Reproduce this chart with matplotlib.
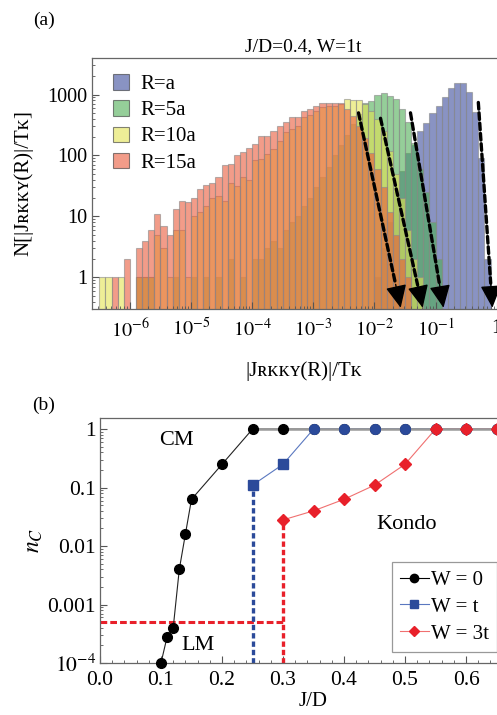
import numpy as np
import matplotlib
matplotlib.use("Agg")
import matplotlib.pyplot as plt
from matplotlib.patches import Patch
from matplotlib.lines import Line2D
from matplotlib.ticker import FuncFormatter, LogLocator, MultipleLocator, FixedLocator, NullFormatter

plt.rcParams['font.family'] = ['Liberation Serif', 'DejaVu Serif']
plt.rcParams['mathtext.fontset'] = 'stix'

# ---- panel (a): histograms of |J_RKKY|/T_K, log10 bins of width 0.1 from -6.5 to 0
log_edges = np.round(np.arange(-6.5, -0.05, 0.1), 1)

counts_r15a = [0, 0, 1, 0, 2, 0,
               3, 4, 6, 11, 7, 5, 13, 18, 17, 20,
               28, 33, 35, 44, 70, 72, 100, 116, 134, 155,
               205, 205, 257, 310, 353, 425, 435, 545, 585, 660,
               720, 730, 730, 720, 585, 450, 300, 190, 110, 60,
               30, 12, 5, 2, 1, 0, 0, 0, 0, 0,
               0, 0, 0, 0, 0, 0, 0, 0, 0]
counts_r10a = [1, 1, 0, 1, 0, 0,
               1, 1, 1, 5, 3, 1, 6, 6, 1, 10,
               12, 15, 20, 22, 18, 36, 32, 44, 39, 83,
               88, 104, 128, 176, 240, 275, 310, 425, 455, 545,
               635, 640, 660, 700, 850, 820, 800, 700, 540, 400,
               250, 120, 50, 20, 6, 2, 1, 0, 0, 0,
               0, 0, 0, 0, 0, 0, 0, 0, 0]
counts_r5a = [0, 0, 0, 0, 0, 0,
              1, 1, 1, 0, 0, 0, 1, 0, 0, 1,
              0, 1, 0, 1, 0, 2, 0, 1, 0, 2,
              2, 3, 4, 3, 6, 8, 10, 15, 20, 30,
              45, 65, 100, 150, 220, 330, 480, 740, 775, 1000,
              1050, 960, 850, 585, 350, 160, 60, 25, 8, 2,
              0, 0, 0, 0, 0, 0, 0, 0, 0]
counts_ra = [0] * 36 + [0, 0, 0, 0, 0, 0, 0, 0, 0, 1,
                        3, 8, 25, 55, 110, 150, 250, 340, 490, 660,
                        920, 1260, 1540, 1540, 1100, 520, 90, 2, 0]

hist_labels = ['R=a', 'R=5a', 'R=10a', 'R=15a']
hist_colors = ['#3a4c9c', '#4fae55', '#e3e352', '#ea5a3a']

# dotted arrows (start, end) in (log10 |J|/T_K, log10 N)
arrow_paths = [((-2.26, 2.70), (-1.57, -0.50)),
               ((-1.90, 2.61), (-1.21, -0.50)),
               ((-1.41, 2.70), (-0.87, -0.50)),
               ((-0.30, 2.87), (-0.07, -0.50))]

# ---- panel (b): n_C vs J/D
jd_w0 = [0.10, 0.11, 0.12, 0.13, 0.14, 0.15, 0.20, 0.25, 0.30, 0.35, 0.40, 0.45, 0.50, 0.55, 0.60, 0.65, 0.70]
nc_w0 = [1e-4, 2.8e-4, 4e-4, 4e-3, 1.6e-2, 6.3e-2, 0.25, 1, 1, 1, 1, 1, 1, 1, 1, 1, 1]
jd_wt = [0.25, 0.30, 0.35, 0.40, 0.45, 0.50, 0.55, 0.60, 0.65, 0.70]
nc_wt = [0.11, 0.25, 1, 1, 1, 1, 1, 1, 1, 1]
jd_w3t = [0.30, 0.35, 0.40, 0.45, 0.50, 0.55, 0.60, 0.65, 0.70]
nc_w3t = [0.028, 0.04, 0.063, 0.11, 0.25, 1, 1, 1, 1]
nc_threshold = 5e-4

fig = plt.figure(figsize=(4.97, 7.15), dpi=100)

# ================= panel (a)
ax1 = fig.add_axes([92/497, 1-309/715, 423/497, 251/715])
lefts = 10.0**log_edges
widths = 10.0**(log_edges + 0.1) - lefts
for cnt, col in zip([counts_ra, counts_r5a, counts_r10a, counts_r15a], hist_colors):
    cnt = np.array(cnt, dtype=float)
    m = cnt > 0
    ax1.bar(lefts[m], cnt[m], width=widths[m], align='edge', color=col, alpha=0.6,
            edgecolor='#8a8a8a', linewidth=0.8)

ax1.set_xscale('log')
ax1.set_yscale('log')
ax1.set_xlim(10**-6.62, 10**0.3)
ax1.set_ylim(10**-0.52, 10**3.6)

# dashed shaft, then a solid head at the end
for (x0, y0), (x1, y1) in arrow_paths:
    xm, ym = x1 - 0.12 * (x1 - x0), y1 - 0.12 * (y1 - y0)
    ax1.annotate('', xy=(10**xm, 10**ym), xytext=(10**x0, 10**y0),
                 arrowprops=dict(arrowstyle='-', color='black', lw=2.4,
                                 linestyle=(0, (2.0, 1.1)), shrinkA=0, shrinkB=0))
    ax1.annotate('', xy=(10**x1, 10**y1), xytext=(10**xm, 10**ym),
                 arrowprops=dict(arrowstyle='-|>,head_length=1.4,head_width=0.65',
                                 color='black', lw=1.0, shrinkA=0, shrinkB=0))

ax1.xaxis.set_major_locator(FixedLocator([1e-6, 1e-5, 1e-4, 1e-3, 1e-2, 1e-1, 1]))
ax1.xaxis.set_major_formatter(FuncFormatter(
    lambda v, p: '1' if abs(v - 1) < 1e-9 else r'$10^{%d}$' % int(round(np.log10(v)))))
ax1.xaxis.set_minor_locator(LogLocator(base=10, subs=np.arange(2, 10), numticks=20))
ax1.xaxis.set_minor_formatter(NullFormatter())
ax1.yaxis.set_major_locator(FixedLocator([1, 10, 100, 1000]))
ax1.yaxis.set_major_formatter(FuncFormatter(lambda v, p: '%d' % v))
ax1.yaxis.set_minor_locator(LogLocator(base=10, subs=np.arange(2, 10), numticks=20))
ax1.yaxis.set_minor_formatter(NullFormatter())
ax1.tick_params(which='both', direction='in', labelsize=14.5, colors='#555555', labelcolor='black')
ax1.tick_params(which='major', length=5, width=0.8)
ax1.tick_params(which='minor', length=2.5, width=0.6)
ax1.tick_params(axis='x', pad=7)
for s in ax1.spines.values():
    s.set_color('#666666')
    s.set_linewidth(0.9)

ax1.set_title('J/D=0.4, W=1t', fontsize=14, pad=5)
ax1.set_xlabel('|Jʀᴋᴋʏ(R)|/Tᴋ', fontsize=15, labelpad=14)
ax1.set_ylabel('N[|Jʀᴋᴋʏ(R)|/Tᴋ]', fontsize=15, labelpad=10)

handles = [Patch(facecolor=c, alpha=0.6, edgecolor='#333333', linewidth=0.8) for c in hist_colors]
ax1.legend(handles, hist_labels, loc='upper left', bbox_to_anchor=(0.02, 0.985), frameon=False,
           fontsize=15, handlelength=0.75, handleheight=0.75, labelspacing=0.3, handletextpad=0.55,
           borderaxespad=0.2)

fig.text(44/497, 1-20/715, '(a)', fontsize=14, ha='center', va='center')

# ================= panel (b)
ax2 = fig.add_axes([100/497, 1-663/715, 427/497, 245/715])
ax2.set_yscale('log')
ax2.set_xlim(0, 0.7)
ax2.set_ylim(1e-4, 10**0.19)

w0 = np.array(nc_w0)
wt = np.array(nc_wt)
w3 = np.array(nc_w3t)
jd0 = np.array(jd_w0)
jdt = np.array(jd_wt)
jd3 = np.array(jd_w3t)

# threshold lines
ax2.plot([0, jd3[0]], [nc_threshold, nc_threshold], color='#e8202a', lw=2.2,
         linestyle=(0, (2.2, 1.0)), zorder=2)
ax2.plot([jdt[0], jdt[0]], [1e-4, wt[0]], color='#2b4a9a', lw=2.4,
         linestyle=(0, (1.6, 0.9)), zorder=2)
ax2.plot([jd3[0], jd3[0]], [1e-4, w3[0]], color='#e8202a', lw=2.4,
         linestyle=(0, (1.6, 0.9)), zorder=2)

ax2.plot(jd0, w0, color='#222222', lw=0.8, zorder=3)
ax2.plot(jdt, wt, color='#5a78c0', lw=0.8, zorder=3)
ax2.plot(jd3, w3, color='#f07070', lw=0.8, zorder=3)
plat = w0 == 1
ax2.plot(jd0[plat], w0[plat], color='#999999', lw=1.8, zorder=3.5)

ax2.plot(jd0, w0, 'o', color='black', ms=7, zorder=4, clip_on=False)
ax2.plot(jdt[wt < 1], wt[wt < 1], 's', color='#2b4a9a', ms=6.5, zorder=5, clip_on=False)
ax2.plot(jdt[wt == 1], wt[wt == 1], 'o', color='#2b4a9a', ms=7, zorder=5, clip_on=False)
ax2.plot(jd3[w3 == 1], w3[w3 == 1], 'o', color='#e8202a', ms=6.5, zorder=6, clip_on=False)
ax2.plot(jd3, w3, 'D', color='#e8202a', ms=6, zorder=6, clip_on=False)

ax2.text(0.126, 0.65, 'CM', fontsize=16, ha='center', va='center')
ax2.text(0.161, 2.0e-4, 'LM', fontsize=16, ha='center', va='center')
ax2.text(0.502, 0.023, 'Kondo', fontsize=16, ha='center', va='center')

ax2.xaxis.set_major_locator(MultipleLocator(0.1))
ax2.xaxis.set_minor_locator(MultipleLocator(0.02))
ax2.xaxis.set_major_formatter(FuncFormatter(lambda v, p: '%.1f' % v))
ax2.yaxis.set_major_locator(FixedLocator([1e-4, 1e-3, 1e-2, 1e-1, 1]))
ax2.yaxis.set_major_formatter(FuncFormatter(
    lambda v, p: r'$10^{-4}$' if v < 2e-4 else ('%g' % v)))
ax2.yaxis.set_minor_locator(LogLocator(base=10, subs=np.arange(2, 10), numticks=20))
ax2.yaxis.set_minor_formatter(NullFormatter())
ax2.tick_params(which='both', direction='in', labelsize=15.5, colors='#555555', labelcolor='black')
ax2.tick_params(which='major', length=5, width=0.8)
ax2.tick_params(which='minor', length=2.5, width=0.6)
ax2.tick_params(axis='x', pad=6)
ax2.tick_params(axis='y', pad=3)
for s in ax2.spines.values():
    s.set_color('#666666')
    s.set_linewidth(0.9)

ax2.set_xlabel('J/D', fontsize=15, labelpad=1)
ax2.set_ylabel(r'$n_C$', fontsize=17, labelpad=2)

leg_handles = [Line2D([], [], color='black', lw=0.8, marker='o', ms=6),
               Line2D([], [], color='#5a78c0', lw=0.8, marker='s', ms=5.5, mfc='#2b4a9a', mec='#2b4a9a'),
               Line2D([], [], color='#f07070', lw=0.8, marker='D', ms=5, mfc='#e8202a', mec='#e8202a')]
leg = ax2.legend(leg_handles, ['W = 0', 'W = t', 'W = 3t'], loc='lower left',
                 bbox_to_anchor=(0.684, 0.045), fontsize=15, handlelength=1.35,
                 handletextpad=0.1, labelspacing=0.35, borderpad=0.4, fancybox=False,
                 framealpha=1, edgecolor='#999999', borderaxespad=0)
leg.get_frame().set_linewidth(0.9)

fig.text(44/497, 1-405/715, '(b)', fontsize=14, ha='center', va='center')

fig.savefig('out.png', dpi=100)
